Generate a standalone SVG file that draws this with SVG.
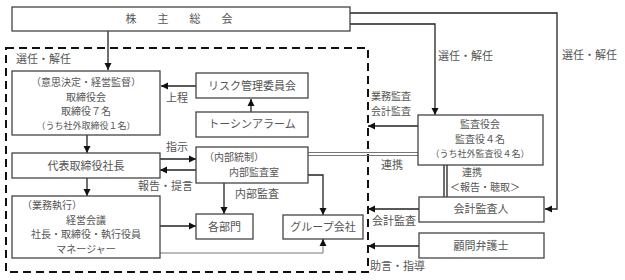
<svg xmlns="http://www.w3.org/2000/svg" width="625" height="280" viewBox="0 0 625 280">
<style>
text{font-family:"Noto Sans CJK JP","Noto Sans",sans-serif;font-size:11px;fill:#555}
.c{text-anchor:middle}
.m{font-size:10px}
.s{font-size:9px}
.box{fill:#fff;stroke:#444;stroke-width:1.3}
.ln{fill:none;stroke:#222;stroke-width:1.3}
.thin{fill:none;stroke:#777;stroke-width:1}
.dash{fill:none;stroke:#111;stroke-width:2;stroke-dasharray:8 5}
</style>
<defs>
<marker id="ah" markerWidth="8" markerHeight="8" refX="7" refY="4" orient="auto" markerUnits="userSpaceOnUse">
<path d="M0,0.5 L7,4 L0,7.5 z" fill="#111"/>
</marker>
</defs>
<rect class="dash" x="6" y="48" width="362" height="224"/>
<g id="connectors">
<path class="ln" d="M108,31 V70" marker-end="url(#ah)"/>
<path class="ln" d="M350,24 H435 V115" marker-end="url(#ah)"/>
<path class="ln" d="M350,13 H557 V209 H545" marker-end="url(#ah)"/>
<path class="ln" d="M196,86 H161" marker-end="url(#ah)"/>
<path class="ln" d="M251,112 V99" marker-end="url(#ah)"/>
<path class="ln" d="M87,135 V153" marker-end="url(#ah)"/>
<path class="ln" d="M87,178 V196" marker-end="url(#ah)"/>
<path class="ln" d="M160,159 H196" marker-end="url(#ah)"/>
<path class="ln" d="M196,170 H160" marker-end="url(#ah)"/>
<path class="ln" d="M224,183 V214" marker-end="url(#ah)"/>
<path class="ln" d="M160,226 H196" marker-end="url(#ah)"/>
<path class="ln" d="M308,175 H323 V215" marker-end="url(#ah)"/>
<path class="thin" d="M160,253 H323 V246"/>
<path class="ln" d="M323,246 V239" marker-end="url(#ah)"/>
<path class="thin" d="M308,152.5 H418 M308,155.5 H418"/>
<path class="ln" d="M418,126 H368" marker-end="url(#ah)"/>
<path class="ln" d="M444,165 V197 M447,165 V197"/>
<path class="ln" d="M419,209 H368" marker-end="url(#ah)"/>
<path class="ln" d="M419,246 H368" marker-end="url(#ah)"/>
</g>
<g id="kabunushi">
<rect class="box" x="12" y="7" width="338" height="24"/>
<text class="c" y="23"><tspan x="131">株</tspan><tspan x="163">主</tspan><tspan x="195">総</tspan><tspan x="227">会</tspan></text>
</g>
<g id="torishimariyakukai">
<rect class="box" x="12" y="71" width="148" height="64"/>
<text class="c m" x="86" y="86">（意思決定・経営監督）</text>
<text class="c m" x="86" y="100.5">取締役会</text>
<text class="c m" x="86" y="115">取締役７名</text>
<text class="c s" x="86" y="129">（うち社外取締役１名）</text>
</g>
<g id="risk">
<rect class="box" x="196" y="73" width="112" height="25"/>
<text class="c" x="252" y="90">リスク管理委員会</text>
</g>
<g id="toshin">
<rect class="box" x="196" y="112" width="112" height="25"/>
<text class="c" x="252" y="128">トーシンアラーム</text>
</g>
<g id="shacho">
<rect class="box" x="12" y="153" width="148" height="25"/>
<text class="c" x="86" y="170">代表取締役社長</text>
</g>
<g id="keieikaigi">
<rect class="box" x="12" y="196" width="148" height="62"/>
<text class="m" x="22" y="209">（業務執行）</text>
<text class="c m" x="86" y="223.5">経営会議</text>
<text class="c m" x="86" y="238">社長・取締役・執行役員</text>
<text class="c m" x="86" y="252.5">マネージャー</text>
</g>
<g id="naibukansa">
<rect class="box" x="196" y="147" width="112" height="36"/>
<text class="m" x="204" y="161">（内部統制）</text>
<text class="c m" x="254" y="176">内部監査室</text>
</g>
<g id="kakubumon">
<rect class="box" x="196" y="214" width="57" height="25"/>
<text class="c" x="224.5" y="231">各部門</text>
</g>
<g id="group">
<rect class="box" x="283" y="215" width="80" height="24"/>
<text class="c" x="323" y="231">グループ会社</text>
</g>
<g id="kansayakukai">
<rect class="box" x="418" y="115" width="125" height="50"/>
<text class="c m" x="480" y="128">監査役会</text>
<text class="c m" x="480" y="142.5">監査役４名</text>
<text class="c s" x="480" y="157">（うち社外監査役４名）</text>
</g>
<g id="kaikeikansanin">
<rect class="box" x="419" y="197" width="125" height="25"/>
<text class="c" x="481" y="213">会計監査人</text>
</g>
<g id="komon">
<rect class="box" x="419" y="233" width="125" height="25"/>
<text class="c" x="481" y="250">顧問弁護士</text>
</g>
<g id="labels">
<text x="16" y="63">選任・解任</text>
<text x="166" y="102">上程</text>
<text x="166" y="151">指示</text>
<text x="138" y="190">報告・提言</text>
<text x="235" y="198">内部監査</text>
<text class="m" x="371" y="100">業務監査</text>
<text class="m" x="371" y="115">会計監査</text>
<text x="381" y="169">連携</text>
<text class="m" x="462" y="176">連携</text>
<text class="m" x="450" y="191">＜報告・聴取＞</text>
<text x="372" y="225">会計監査</text>
<text x="370" y="270">助言・指導</text>
<text x="438" y="60">選任・解任</text>
<text x="562" y="59">選任・解任</text>
</g>
</svg>
